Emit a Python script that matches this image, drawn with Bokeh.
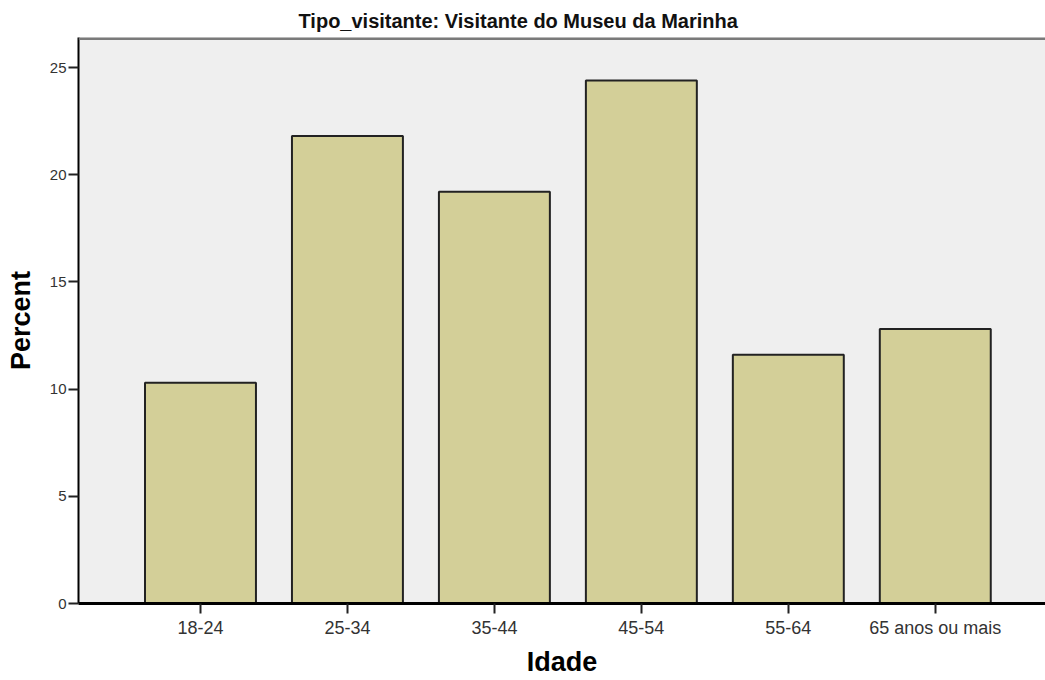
from bokeh.plotting import figure
from bokeh.models import Range1d, FixedTicker, Span, Title
from bokeh.embed import file_html
from bokeh.resources import INLINE

categories = ["18-24", "25-34", "35-44", "45-54", "55-64", "65 anos ou mais"]
percent = [10.3, 21.8, 19.2, 24.4, 11.6, 12.8]
y_ticks = [0, 5, 10, 15, 20, 25]

xs = list(range(len(categories)))

p = figure(width=1045, height=680, output_backend="svg", toolbar_location=None,
           x_range=Range1d(-0.83, 5.75), y_range=Range1d(0, 26.4),
           min_border_left=78, min_border_right=0, min_border_top=37, min_border_bottom=77)
p.title = Title(text="Tipo_visitante: Visitante do Museu da Marinha", align="left", offset=220,
                text_font="Liberation Sans", text_font_size="20px", text_font_style="bold",
                text_color="#111111", standoff=12)
p.background_fill_color = "#efefef"
p.border_fill_color = "white"
p.outline_line_color = None
p.xgrid.visible = False
p.ygrid.visible = False

p.vbar(x=xs, top=percent, width=0.755, bottom=0, fill_color="#d3cf98",
       line_color="#222222", line_width=2)

p.add_layout(Span(location=26.4, dimension="width", line_color="#7a7a7a", line_width=5))

p.xaxis.ticker = FixedTicker(ticks=xs)
p.xaxis.major_label_overrides = {i: c for i, c in zip(xs, categories)}
p.yaxis.ticker = FixedTicker(ticks=y_ticks)

for ax in (p.xaxis[0], p.yaxis[0]):
    ax.axis_line_color = "black"
    ax.major_tick_line_color = "#222222"
    ax.major_tick_line_width = 2
    ax.major_tick_out = 10
    ax.major_tick_in = 0
    ax.minor_tick_line_color = None
    ax.major_label_text_font = "Liberation Sans"
    ax.major_label_text_color = "#333333"
    ax.axis_label_text_font = "Liberation Sans"
    ax.axis_label_text_font_style = "bold"
    ax.axis_label_text_color = "black"

p.xaxis.axis_line_width = 3
p.yaxis.axis_line_width = 2
p.xaxis.major_label_text_font_size = "18px"
p.yaxis.major_label_text_font_size = "15px"
p.xaxis.axis_label = "Idade"
p.yaxis.axis_label = "Percent"
p.xaxis.axis_label_text_font_size = "27px"
p.yaxis.axis_label_text_font_size = "27px"
p.xaxis.major_label_standoff = 4
p.yaxis.major_label_standoff = 2
p.xaxis.axis_label_standoff = 6
p.yaxis.axis_label_standoff = 11

open("out.html", "w").write(file_html(p, INLINE))
